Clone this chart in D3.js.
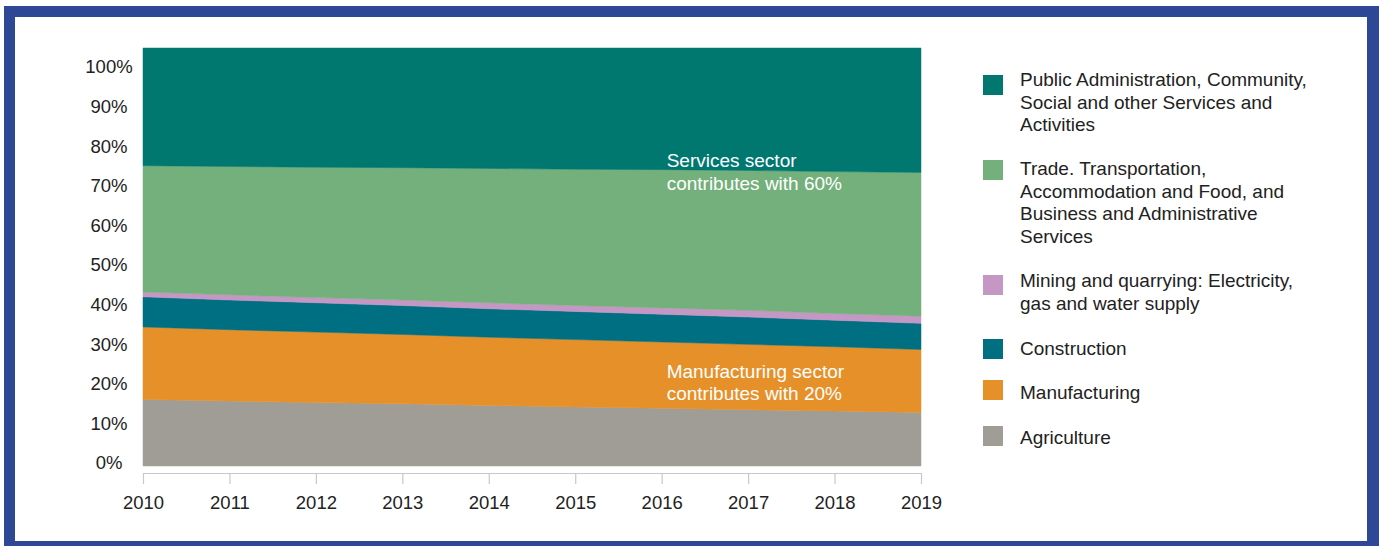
<!DOCTYPE html>
<html>
<head>
<meta charset="utf-8">
<script src="https://cdn.jsdelivr.net/npm/d3@7"></script>
<style>
  html, body { margin: 0; padding: 0; background: #ffffff; }
  svg { display: block; font-family: "Liberation Sans", Arial, Helvetica, sans-serif; }
</style>
</head>
<body>
<svg id="chart" width="1379" height="546"></svg>
<script>
// ---- DATA ----
const years = [2010, 2011, 2012, 2013, 2014, 2015, 2016, 2017, 2018, 2019];
const agriculture   = [16.8, 16.4, 16.0, 15.7, 15.3, 14.9, 14.6, 14.2, 13.9, 13.5];
const manufacturing = [18.3, 18.0, 17.8, 17.5, 17.2, 17.0, 16.7, 16.5, 16.2, 15.9];
const construction  = [7.6, 7.5, 7.4, 7.3, 7.2, 7.1, 7.0, 6.9, 6.7, 6.6];
const mining        = [1.2, 1.3, 1.3, 1.4, 1.5, 1.5, 1.6, 1.7, 1.7, 1.8];
const trade         = [31.9, 32.4, 32.9, 33.4, 33.9, 34.4, 34.9, 35.3, 35.8, 36.3];
const publicAdmin   = [29.7, 29.9, 30.1, 30.2, 30.4, 30.6, 30.7, 30.9, 31.2, 31.4];
const yTicks = [0, 10, 20, 30, 40, 50, 60, 70, 80, 90, 100];

const seriesKeys = ["agriculture", "manufacturing", "construction", "mining", "trade", "publicAdmin"];
const seriesValues = { agriculture, manufacturing, construction, mining, trade, publicAdmin };
const colors = {
  agriculture: "#a09d97",
  manufacturing: "#e69029",
  construction: "#006f82",
  mining: "#c497c5",
  trade: "#74b07b",
  publicAdmin: "#007870"
};
const legendItems = [
  { key: "publicAdmin", lines: ["Public Administration, Community,", "Social and other Services and", "Activities"] },
  { key: "trade", lines: ["Trade. Transportation,", "Accommodation and Food, and", "Business and Administrative", "Services"] },
  { key: "mining", lines: ["Mining and quarrying: Electricity,", "gas and water supply"] },
  { key: "construction", lines: ["Construction"] },
  { key: "manufacturing", lines: ["Manufacturing"] },
  { key: "agriculture", lines: ["Agriculture"] }
];
const annotations = [
  { lines: ["Services sector", "contributes with 60%"], year: 2016, value: 75.4 },
  { lines: ["Manufacturing sector", "contributes with 20%"], year: 2016, value: 22.3 }
];

// ---- TABLE ----
const table = years.map((yr, i) => {
  const row = { year: yr };
  seriesKeys.forEach(k => row[k] = seriesValues[k][i]);
  return row;
});

const svg = d3.select("#chart");

// frame
svg.append("rect").attr("x", 4).attr("y", 6).attr("width", 1375).attr("height", 545).attr("fill", "#2e4896");
svg.append("rect").attr("x", 15).attr("y", 17).attr("width", 1352).attr("height", 524).attr("fill", "#ffffff");

const plotLeft = 143, plotRight = 921, plotTop = 48, plotBottom = 466;
const x = d3.scaleLinear().domain([2010, 2019]).range([plotLeft, plotRight]);
const y = d3.scaleLinear().domain([0, 105.5]).range([plotBottom, plotTop]);

const stack = d3.stack().keys(seriesKeys);
const stacked = stack(table);

const area = d3.area()
  .x(d => x(d.data.year))
  .y0(d => y(d[0]))
  .y1(d => y(d[1]));

svg.append("g").selectAll("path")
  .data(stacked)
  .join("path")
  .attr("d", area)
  .attr("fill", d => colors[d.key])
  .attr("stroke", d => colors[d.key])
  .attr("stroke-width", 0.5);

// y labels (centered)
svg.append("g").selectAll("text")
  .data(yTicks)
  .join("text")
  .attr("x", 109)
  .attr("y", d => y(d) - 3)
  .attr("dy", "0.35em")
  .attr("text-anchor", "middle")
  .attr("font-size", 18.5)
  .attr("fill", "#222")
  .text(d => d + "%");

// x axis
const xAxis = d3.axisBottom(x)
  .tickValues(years)
  .tickFormat(d3.format("d"))
  .tickSizeInner(11)
  .tickSizeOuter(0)
  .tickPadding(12);
const gx = svg.append("g").attr("transform", `translate(0,473)`).call(xAxis);
gx.select(".domain").attr("stroke", "#c8c8c8").attr("stroke-width", 1.2);
gx.selectAll(".tick line").attr("stroke", "#c8c8c8").attr("stroke-width", 1.2);
gx.selectAll(".tick text").attr("font-size", 18.5).attr("fill", "#222")
  .attr("font-family", "Liberation Sans, Arial, sans-serif");

// annotations
annotations.forEach(a => {
  const t = svg.append("text")
    .attr("x", x(a.year) + 5)
    .attr("y", y(a.value))
    .attr("fill", "#ffffff")
    .attr("font-size", 19);
  a.lines.forEach((ln, i) => {
    t.append("tspan").attr("x", x(a.year) + 5).attr("dy", i === 0 ? 0 : 22.5).text(ln);
  });
});

// legend
const legendTops = [75, 160, 275, 339, 380, 426];
const legendBaselines = [86, 175, 287, 354.5, 398.5, 443.5];
const lg = svg.append("g");
legendItems.forEach((it, i) => {
  const top = legendTops[i];
  lg.append("rect").attr("x", 983).attr("y", top).attr("width", 20).attr("height", 20)
    .attr("fill", colors[it.key]);
  const t = lg.append("text").attr("x", 1020).attr("y", legendBaselines[i]).attr("font-size", 19).attr("fill", "#222");
  it.lines.forEach((ln, j) => {
    t.append("tspan").attr("x", 1020).attr("dy", j === 0 ? 0 : 22.5).text(ln);
  });
});
</script>
</body>
</html>
